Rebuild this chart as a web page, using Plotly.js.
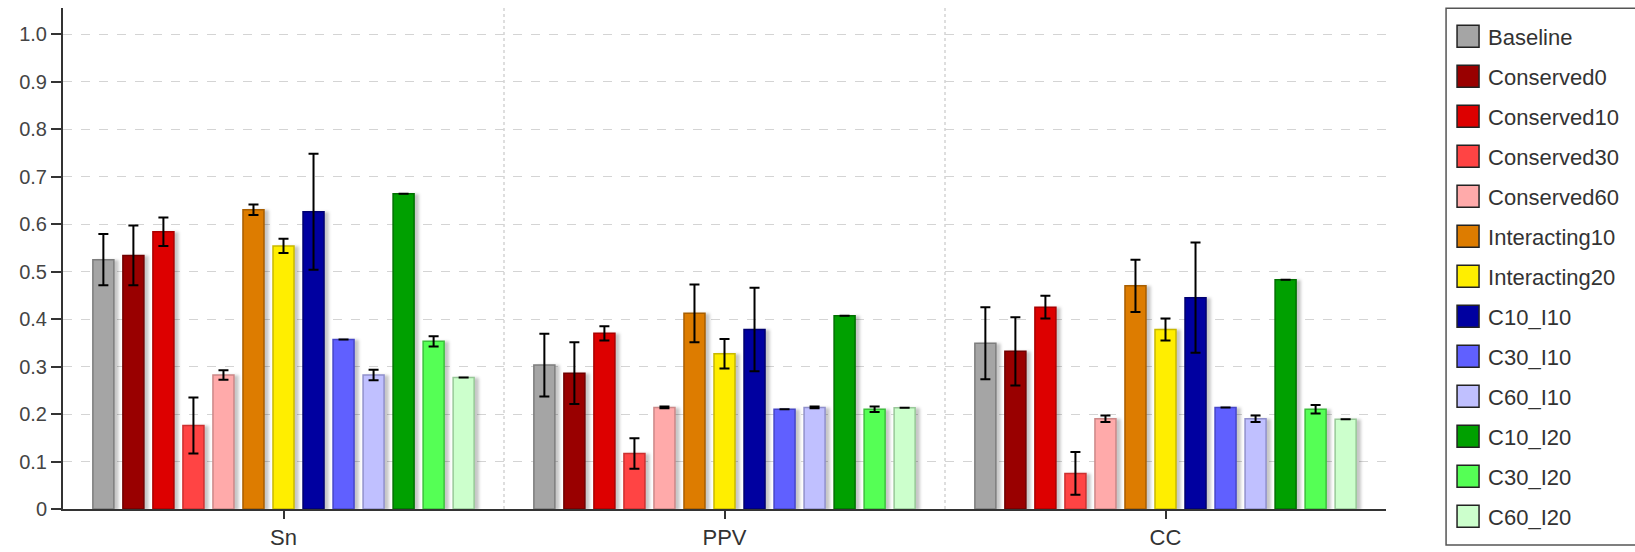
<!DOCTYPE html>
<html>
<head>
<meta charset="utf-8">
<script src="https://cdn.plot.ly/plotly-3.0.1.min.js"></script>
<style>
  html, body { margin: 0; padding: 0; background: #fff; }
  #chart { width: 1635px; height: 552px; }
  .barlayer .point path { filter: drop-shadow(4px 1px 1.5px rgba(0,0,0,0.22)); }
  .legend .legendpoints path { d: path('M11,11H-11V-11H11Z'); stroke: #222 !important; stroke-width: 1.5px !important; }
</style>
</head>
<body>
<div id="chart"></div>
<script>
// ---- data ----
const categories = ['Sn', 'PPV', 'CC'];
const seriesNames = ['Baseline', 'Conserved0', 'Conserved10', 'Conserved30', 'Conserved60',
  'Interacting10', 'Interacting20', 'C10_I10', 'C30_I10', 'C60_I10', 'C10_I20', 'C30_I20', 'C60_I20'];

const baseline      = [0.525, 0.303, 0.349];
const conserved0    = [0.534, 0.286, 0.332];
const conserved10   = [0.584, 0.370, 0.425];
const conserved30   = [0.176, 0.117, 0.075];
const conserved60   = [0.282, 0.214, 0.190];
const interacting10 = [0.630, 0.412, 0.470];
const interacting20 = [0.554, 0.327, 0.378];
const c10_i10       = [0.626, 0.378, 0.445];
const c30_i10       = [0.357, 0.210, 0.214];
const c60_i10       = [0.282, 0.214, 0.190];
const c10_i20       = [0.664, 0.407, 0.483];
const c30_i20       = [0.353, 0.210, 0.210];
const c60_i20       = [0.277, 0.213, 0.189];

const baselineErr      = [0.054, 0.066, 0.076];
const conserved0Err    = [0.063, 0.065, 0.072];
const conserved10Err   = [0.030, 0.015, 0.024];
const conserved30Err   = [0.059, 0.032, 0.045];
const conserved60Err   = [0.010, 0.002, 0.007];
const interacting10Err = [0.011, 0.061, 0.055];
const interacting20Err = [0.015, 0.031, 0.023];
const c10_i10Err       = [0.122, 0.088, 0.116];
const c30_i10Err       = [null, null, 0];
const c60_i10Err       = [0.011, 0.002, 0.007];
const c10_i20Err       = [0, null, null];
const c30_i20Err       = [0.011, 0.006, 0.009];
const c60_i20Err       = [0, 0, 0];

const seriesValues = [baseline, conserved0, conserved10, conserved30, conserved60,
  interacting10, interacting20, c10_i10, c30_i10, c60_i10, c10_i20, c30_i20, c60_i20];
const seriesErrors = [baselineErr, conserved0Err, conserved10Err, conserved30Err, conserved60Err,
  interacting10Err, interacting20Err, c10_i10Err, c30_i10Err, c60_i10Err, c10_i20Err, c30_i20Err, c60_i20Err];

const fillColors = ['#a5a5a5', '#990000', '#dd0000', '#ff4444', '#ffaaaa', '#dd7c00', '#ffee00',
  '#0000a0', '#6060ff', '#c0c0ff', '#00a000', '#55ff55', '#ccffcc'];
const edgeColors = ['#7d7d7d', '#700000', '#aa0000', '#cc3030', '#cc8888', '#a85e00', '#c8b800',
  '#000070', '#4646c8', '#9090cc', '#007000', '#3cc03c', '#98c898'];

const yTickVals = [0, 0.1, 0.2, 0.3, 0.4, 0.5, 0.6, 0.7, 0.8, 0.9, 1.0];
const yTickLabels = ['0', '0.1', '0.2', '0.3', '0.4', '0.5', '0.6', '0.7', '0.8', '0.9', '1.0'];

// ---- traces ----
const traces = seriesNames.map((name, i) => ({
  type: 'bar',
  name: name,
  x: categories,
  y: seriesValues[i],
  legendgroup: 'g' + i,
  marker: { color: fillColors[i], line: { color: edgeColors[i], width: 1.5 } },
  error_y: { type: 'data', array: seriesErrors[i], visible: true, color: '#000', thickness: 2, width: 5 },
  hoverinfo: 'x+y+name'
}));

const fontFam = '"Liberation Sans", Arial, sans-serif';

const layout = {
  width: 1635,
  height: 552,
  margin: { l: 63, r: 249, t: 8, b: 43 },
  paper_bgcolor: '#fff',
  plot_bgcolor: '#fff',
  barmode: 'group',
  bargap: 0.115,
  bargroupgap: 0.3,
  font: { family: fontFam, color: '#444', size: 20 },
  xaxis: {
    type: 'category',
    showgrid: false,
    showline: true,
    linecolor: '#333',
    linewidth: 2,
    ticks: 'outside',
    ticklen: 8,
    tickwidth: 2,
    tickcolor: '#333',
    tickfont: { size: 22, color: '#333', family: fontFam },
    zeroline: false,
    fixedrange: true
  },
  yaxis: {
    range: [0, 1.055],
    tickvals: yTickVals,
    ticktext: yTickLabels,
    showgrid: true,
    gridcolor: '#d4d4d4',
    griddash: 'dash',
    gridwidth: 1,
    showline: true,
    linecolor: '#333',
    linewidth: 2,
    ticks: 'outside',
    ticklen: 10,
    tickwidth: 2,
    tickcolor: '#333',
    tickfont: { size: 20, color: '#444', family: fontFam },
    zeroline: false,
    fixedrange: true
  },
  shapes: [0.5, 1.5].map(xv => ({
    type: 'line', xref: 'x', yref: 'paper', x0: xv, x1: xv, y0: 0, y1: 1,
    line: { color: '#d4d4d4', width: 1.5, dash: 'dot' }, layer: 'below'
  })).concat([{
    type: 'rect', xref: 'paper', yref: 'paper',
    x0: 1.0454, x1: 1.2, y0: -0.0719, y1: 0.9994,
    line: { color: '#555', width: 1.5 }, fillcolor: 'rgba(0,0,0,0)', layer: 'above'
  }]),
  showlegend: true,
  legend: {
    x: 1.0469, xanchor: 'left',
    y: 0.985, yanchor: 'top',
    borderwidth: 0,
    bgcolor: 'rgba(0,0,0,0)',
    font: { size: 22, color: '#333', family: fontFam },
    tracegroupgap: 8.4,
    traceorder: 'grouped',
    maxheight: 552,
    itemclick: false, itemdoubleclick: false
  }
};

Plotly.newPlot('chart', traces, layout, { displayModeBar: false, staticPlot: true });
</script>
</body>
</html>
